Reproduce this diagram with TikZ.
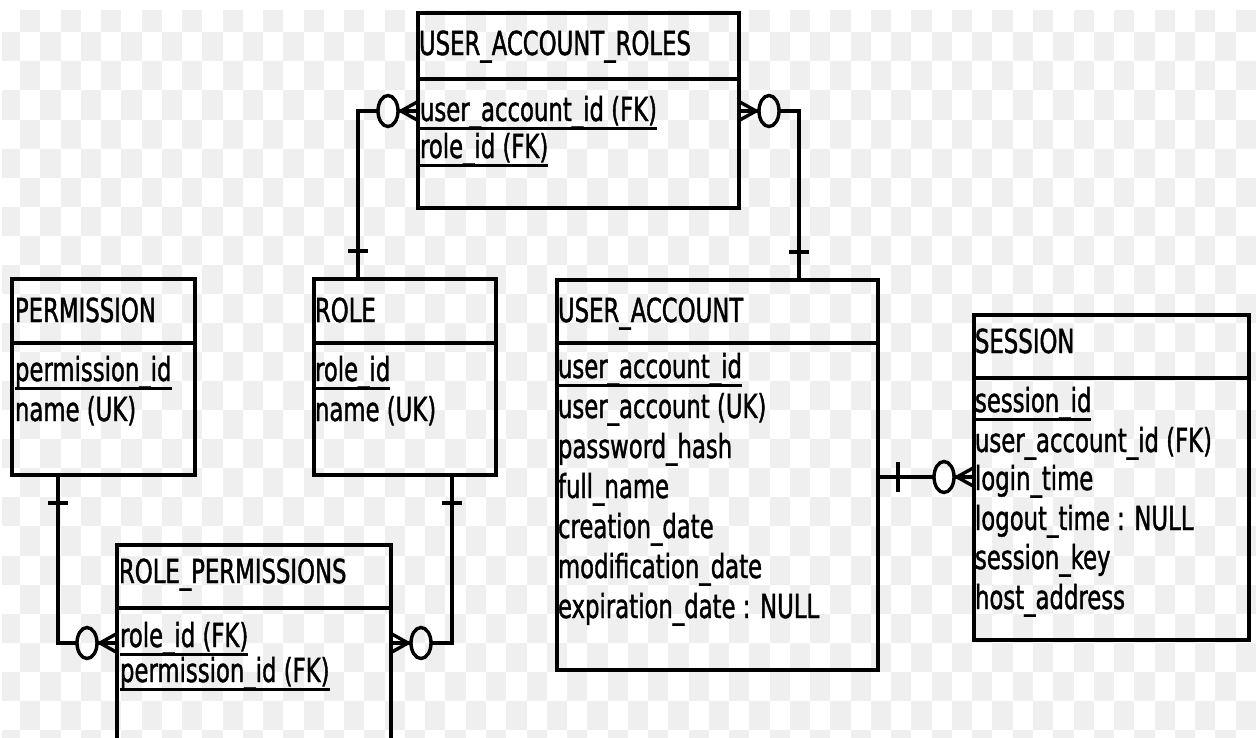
\documentclass[tikz,border=0pt]{standalone}
\usepackage{fontspec}
\newfontfamily\erfam[FakeStretch=0.69,FakeBold=1.2]{DejaVu Sans}
\usetikzlibrary{calc}
\definecolor{chk}{RGB}{239,239,239}
\newcommand\ulx[1]{\setbox0\hbox{#1}\rlap{\rule[-8.5pt]{\wd0}{2.5pt}}\box0}
\tikzset{
  ent/.style={draw, line width=4pt, anchor=north west, inner sep=0pt, outer sep=0pt},
  hdr/.style={line width=4pt},
  conn/.style={line width=3.4pt},
  txt/.style={anchor=base west, inner sep=0pt, outer sep=0pt, font=\erfam\fontsize{33}{40}\selectfont},
  crowfoot/.pic={
    \draw[conn] (-30,0) ellipse [x radius=10pt, y radius=15.5pt];
    \draw[conn] (-20,0) -- (0,0);
    \draw[conn] (0,-9.5) -- (-17,0) -- (0,9.5);
  }
}
\begin{document}
\begin{tikzpicture}[x=1pt,y=-1pt]
\useasboundingbox (0,0) rectangle (1256,737);
\clip (0,0) rectangle (1256,737);
\fill[white] (0,0) rectangle (1256,737);
\begin{scope}
  \clip (2,10) rectangle (1256,737);
  \foreach \j in {0,...,25}{
    \pgfmathtruncatemacro{\s}{mod(\j+1,2)}
    \foreach \k in {0,...,31}{
      \fill[chk] ({-0.26+20.26*(2*\k+\s)},{3.23+29.07*\j}) rectangle ++(20.26,29.07);
    }
  }
\end{scope}

% entity boxes
\node[ent, minimum width=321pt, minimum height=195pt] (uar) at (418,13) {};
\node[ent, minimum width=183pt, minimum height=196pt] (perm) at (12,279) {};
\node[ent, minimum width=182pt, minimum height=196pt] (role) at (314,279) {};
\node[ent, minimum width=274pt, minimum height=260pt] (rp) at (117,545) {};
\node[ent, minimum width=321pt, minimum height=390pt] (ua) at (557,280) {};
\node[ent, minimum width=275pt, minimum height=325pt] (ses) at (974,315) {};

% header separators
\draw[hdr] ([yshift=-66pt]uar.north west) -- ([yshift=-66pt]uar.north east);
\draw[hdr] ([yshift=-64pt]perm.north west) -- ([yshift=-64pt]perm.north east);
\draw[hdr] ([yshift=-64pt]role.north west) -- ([yshift=-64pt]role.north east);
\draw[hdr] ([yshift=-63pt]rp.north west) -- ([yshift=-63pt]rp.north east);
\draw[hdr] ([yshift=-63pt]ua.north west) -- ([yshift=-63pt]ua.north east);
\draw[hdr] ([yshift=-63pt]ses.north west) -- ([yshift=-63pt]ses.north east);

% texts: USER_ACCOUNT_ROLES
\node[txt] (uart) at (419,55) {USER\_ACCOUNT\_ROLES};
\node[txt] (uar1) at (420,121) {\ulx{user\_account\_id (FK)}};
\node[txt] (uar2) at (420,158) {\ulx{role\_id (FK)}};
% PERMISSION
\node[txt] (permt) at (15,322) {PERMISSION};
\node[txt] (perm1) at (15,381) {\ulx{permission\_id}};
\node[txt] (perm2) at (15,421) {name (UK)};
% ROLE
\node[txt] (rolet) at (315,322) {ROLE};
\node[txt] (role1) at (315,381) {\ulx{role\_id}};
\node[txt] (role2) at (315,421) {name (UK)};
% ROLE_PERMISSIONS
\node[txt] (rpt) at (119,583) {ROLE\_PERMISSIONS};
\node[txt] (rp1) at (120,647) {\ulx{role\_id (FK)}};
\node[txt] (rp2) at (120,682) {\ulx{permission\_id (FK)}};
% USER_ACCOUNT
\node[txt] (uat) at (558,322) {USER\_ACCOUNT};
\node[txt] (ua1) at (558,378) {\ulx{user\_account\_id}};
\node[txt] (ua2) at (558,418) {user\_account (UK)};
\node[txt] (ua3) at (558,458) {password\_hash};
\node[txt] (ua4) at (558,498) {full\_name};
\node[txt] (ua5) at (558,538) {creation\_date};
\node[txt] (ua6) at (558,578) {modification\_date};
\node[txt] (ua7) at (558,618) {expiration\_date : NULL};
% SESSION
\node[txt] (sest) at (975,353) {SESSION};
\node[txt] (ses1) at (975,412) {\ulx{session\_id}};
\node[txt] (ses2) at (975,452) {user\_account\_id (FK)};
\node[txt] (ses3) at (975,490) {login\_time};
\node[txt] (ses4) at (975,530) {logout\_time : NULL};
\node[txt] (ses5) at (975,569) {session\_key};
\node[txt] (ses6) at (975,609) {host\_address};

% ROLE -> USER_ACCOUNT_ROLES
\coordinate (j1) at (358,111);
\draw[conn] (j1 |- role.north) -- (j1) -- ($(uar.west |- j1)+(-40,0)$);
\draw[conn] ($(j1 |- role.north)+(-10,-28)$) -- ++(20,0);
\pic at (uar.west |- j1) {crowfoot};

% USER_ACCOUNT -> USER_ACCOUNT_ROLES
\coordinate (j2) at (799,111);
\draw[conn] (j2 |- ua.north) -- (j2) -- ($(uar.east |- j2)+(40,0)$);
\draw[conn] ($(j2 |- ua.north)+(-10,-28)$) -- ++(20,0);
\pic[xscale=-1] at (uar.east |- j2) {crowfoot};

% PERMISSION -> ROLE_PERMISSIONS
\coordinate (j3) at (58,643);
\draw[conn] (j3 |- perm.south) -- (j3) -- ($(rp.west |- j3)+(-40,0)$);
\draw[conn] ($(j3 |- perm.south)+(-10,28)$) -- ++(20,0);
\pic at (rp.west |- j3) {crowfoot};

% ROLE -> ROLE_PERMISSIONS
\coordinate (j4) at (452,643);
\draw[conn] (j4 |- role.south) -- (j4) -- ($(rp.east |- j4)+(40,0)$);
\draw[conn] ($(j4 |- role.south)+(-10,28)$) -- ++(20,0);
\pic[xscale=-1] at (rp.east |- j4) {crowfoot};

% USER_ACCOUNT -> SESSION
\coordinate (j5) at (0,477);
\draw[conn] (ua.east |- j5) -- ($(ses.west |- j5)+(-40,0)$);
\draw[conn] ($(ua.east |- j5)+(20,-15)$) -- ++(0,30);
\pic at (ses.west |- j5) {crowfoot};
\end{tikzpicture}
\end{document}
